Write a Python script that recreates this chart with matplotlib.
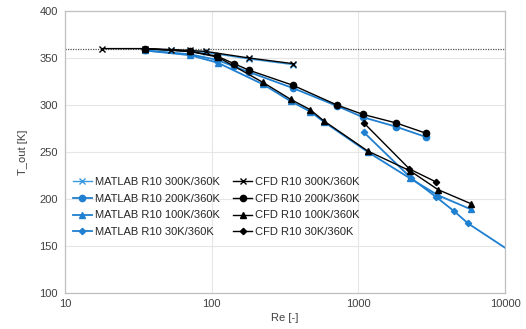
import numpy as np
import matplotlib
matplotlib.use('Agg')
import matplotlib.pyplot as plt
from matplotlib.ticker import FixedLocator, FixedFormatter, NullLocator

plt.rcParams['font.family'] = ['Liberation Sans', 'DejaVu Sans']

# values
re_cfd300 = [18, 35, 53, 71, 91, 180, 358]
t_cfd300 = [360, 360, 359, 358, 357, 350, 344]
re_mat300 = [35, 53, 71, 91, 180, 358]
t_mat300 = [359, 358.5, 357, 356, 349, 343]

re_200 = [35, 71, 109, 142, 180, 358, 715, 1075, 1800, 2890]
t_cfd200 = [360, 357, 352, 344, 337, 321, 300, 290, 281, 270]
t_mat200 = [358, 354, 348, 341, 335, 318, 299, 287, 277, 266]

re_100 = [35, 71, 110, 224, 346, 470, 583, 1160, 2250, 3490, 5860]
t_cfd100 = [360, 357, 351, 324, 306, 295, 283, 251, 230, 210, 195]
t_mat100 = [358, 353, 345, 322, 304, 293, 282, 250, 222, 204, 189]

re_cfd30 = [1090, 2230, 3400]
t_cfd30 = [281, 232, 218]
re_mat30 = [1090, 2300, 3400, 4500, 5600, 12000]
t_mat30 = [271, 222, 202, 187, 174, 140]

t_wall = 360

blue = '#1f7fd0'
fig = plt.figure(figsize=(5.26, 3.29), dpi=100)
ax = fig.add_axes([65/526, 1-293/329, 440/526, 282/329])

ax.axhline(t_wall, color='#555555', lw=0.9, ls=(0, (1, 1)), zorder=1)

ax.plot(re_mat300, t_mat300, color='#3a9ae0', lw=1.0, marker='x', ms=5, mew=1.0, label='MATLAB R10 300K/360K')
ax.plot(re_200, t_mat200, color=blue, lw=1.3, marker='o', ms=4.5, label='MATLAB R10 200K/360K')
ax.plot(re_100, t_mat100, color=blue, lw=1.3, marker='^', ms=5, label='MATLAB R10 100K/360K')
ax.plot(re_mat30, t_mat30, color=blue, lw=1.3, marker='D', ms=3.2, label='MATLAB R10 30K/360K')

ax.plot(re_cfd300, t_cfd300, color='black', lw=1.0, marker='x', ms=5, mew=1.0, label='CFD R10 300K/360K')
ax.plot(re_200, t_cfd200, color='black', lw=1.0, marker='o', ms=4.5, label='CFD R10 200K/360K')
ax.plot(re_100, t_cfd100, color='black', lw=1.0, marker='^', ms=5, label='CFD R10 100K/360K')
ax.plot(re_cfd30, t_cfd30, color='black', lw=1.0, marker='D', ms=3.2, label='CFD R10 30K/360K')

ax.set_xscale('log')
ax.set_xlim(10, 10000)
ax.set_ylim(100, 400)
ax.xaxis.set_major_locator(FixedLocator([10, 100, 1000, 10000]))
ax.xaxis.set_major_formatter(FixedFormatter(['10', '100', '1000', '10000']))
ax.xaxis.set_minor_locator(NullLocator())
ax.set_yticks(np.arange(100, 401, 50))
ax.tick_params(length=0, labelsize=8, colors='#404040', pad=5)
ax.tick_params(axis='x', pad=4)
ax.grid(True, color='#e6e6e6', lw=0.8)
ax.set_axisbelow(True)
for s in ax.spines.values():
    s.set_color('#bfbfbf')
    s.set_linewidth(0.9)

ax.set_xlabel('Re [-]', fontsize=8, color='#404040', labelpad=3)
ax.set_ylabel('T_out [K]', fontsize=8, color='#404040', labelpad=8)

ax.legend(ncol=2, loc='upper left', bbox_to_anchor=(0.0, 0.44), frameon=False,
          fontsize=8, handlelength=1.7, handletextpad=0.3, columnspacing=1.2,
          labelspacing=0.62, borderaxespad=0.3, labelcolor='#262626')

fig.savefig('out.png', dpi=100)
